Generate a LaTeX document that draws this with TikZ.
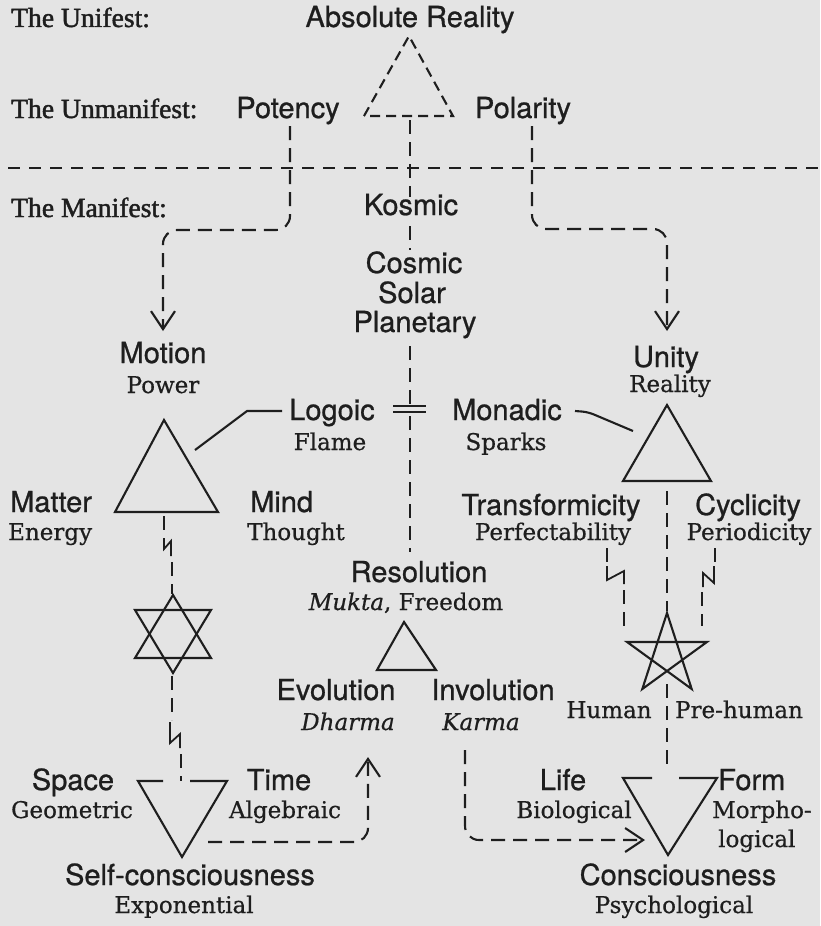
\documentclass[tikz,border=0pt]{standalone}
\usepackage{fontspec}
\setmainfont[FakeBold=0.6]{DejaVu Serif}
\newfontfamily\hv[FakeBold=0.8]{TeX Gyre Heros}
\newfontfamily\tm[FakeBold=1.6]{Liberation Serif}
\usetikzlibrary{arrows.meta,calc}
\definecolor{bg}{RGB}{228,228,228}
\definecolor{ink}{RGB}{30,30,30}
\tikzset{
 sanslab/.style={font=\hv\fontsize{29}{33}\selectfont,inner sep=0pt,text=ink,anchor=base},
 serlab/.style={font=\fontsize{23}{27}\selectfont,inner sep=0pt,text=ink,anchor=base},
 levlab/.style={font=\tm\fontsize{27.6}{31}\selectfont,inner sep=0pt,text=ink,anchor=base west},
 solidline/.style={draw=ink,line width=2.1pt,line join=miter},
 dashline/.style={draw=ink,line width=2.1pt,dash pattern=on 14pt off 8pt},
 sepline/.style={draw=ink,line width=2.1pt,dash pattern=on 12pt off 9pt},
 tridash/.style={draw=ink,line width=2.1pt,dash pattern=on 10pt off 6pt},
 bolt/.style={draw=ink,line width=1.8pt},
 flow/.style={dashline,rounded corners=14pt,-{Straight Barb[length=18pt,width=24pt]}},
}
\begin{document}
\begin{tikzpicture}[x=1pt,y=-1pt]
\fill[bg] (0,0) rectangle (820,926);
\useasboundingbox (0,0) rectangle (820,926);

% ---------- labels ----------
\node[levlab] (unifest) at (11,27) {The Unifest:};
\node[levlab] (unmanifest) at (11,118) {The Unmanifest:};
\node[levlab] (manifest) at (11,217) {The Manifest:};
\node[sanslab] (absolute) at (410,27) {Absolute Reality};
\node[sanslab] (potency) at (288,118) {Potency};
\node[sanslab] (polarity) at (523,118) {Polarity};
\node[sanslab] (kosmic) at (411,215) {Kosmic};
\node[sanslab] (cosmic) at (414,273) {Cosmic};
\node[sanslab] (solar) at (412,303) {Solar};
\node[sanslab] (planetary) at (415,332) {Planetary};
\node[sanslab] (motion) at (163,363) {Motion};
\node[serlab] (power) at (163,393) {Power};
\node[sanslab] (unity) at (666,367) {Unity};
\node[serlab] (reality) at (670,392) {Reality};
\node[sanslab] (logoic) at (332,420) {Logoic};
\node[serlab] (flame) at (330,450) {Flame};
\node[sanslab] (monadic) at (507,420) {Monadic};
\node[serlab] (sparks) at (506,450) {Sparks};
\node[sanslab,anchor=base west] (matter) at (10,512) {Matter};
\node[serlab,anchor=base west] (energy) at (8,540) {Energy};
\node[sanslab,anchor=base west] (mind) at (250,512) {Mind};
\node[serlab,anchor=base west] (thought) at (247,540) {Thought};
\node[sanslab] (transf) at (551,515) {Transformicity};
\node[serlab] (perfect) at (553,540) {Perfectability};
\node[sanslab] (cyclic) at (748,515) {Cyclicity};
\node[serlab] (period) at (749,540) {Periodicity};
\node[sanslab] (resolution) at (419,582) {Resolution};
\node[serlab] (mukta) at (406,610) {\textit{Mukta}, Freedom};
\node[sanslab] (evolution) at (336,700) {Evolution};
\node[serlab] (dharma) at (348,730) {\textit{Dharma}};
\node[sanslab] (involution) at (493,700) {Involution};
\node[serlab] (karma) at (481,730) {\textit{Karma}};
\node[serlab] (human) at (609,718) {Human};
\node[serlab] (prehuman) at (739,718) {Pre-human};
\node[sanslab] (space) at (73,790) {Space};
\node[serlab] (geometric) at (72,818) {Geometric};
\node[sanslab] (time) at (279,790) {Time};
\node[serlab] (algebraic) at (285,818) {Algebraic};
\node[sanslab] (life) at (563,790) {Life};
\node[serlab] (biological) at (574,818) {Biological};
\node[sanslab,anchor=base west] (form) at (718,790) {Form};
\node[serlab,anchor=base west] (morpho) at (712,818) {Morpho-};
\node[serlab,anchor=base west] (logical) at (718,847) {logical};
\node[sanslab] (selfc) at (190,885) {Self-consciousness};
\node[serlab] (expo) at (184,913) {Exponential};
\node[sanslab] (consc) at (678,885) {Consciousness};
\node[serlab] (psych) at (674,913) {Psychological};

% ---------- key points ----------
\coordinate (absApex) at (409,36);
\coordinate (absL) at (364,116);
\coordinate (absR) at (453,116);
\coordinate (absMid) at (410,120);
\coordinate (sepL) at (8,168);
\coordinate (sepR) at (820,168);
\coordinate (potTop) at (290,126);
\coordinate (polTop) at (532,126);
\coordinate (motionTip) at (163,331);
\coordinate (unityTip) at (667,331);
\coordinate (motApex) at (164,420);
\coordinate (motL) at (115,512);
\coordinate (motR) at (218,512);
\coordinate (uniApex) at (667,405);
\coordinate (uniL) at (623,481);
\coordinate (uniR) at (711,481);
\coordinate (resApex) at (404,622);
\coordinate (resL) at (377,670);
\coordinate (resR) at (436,670);
\coordinate (davC) at (173,634);
\coordinate (stTL) at (138,781);
\coordinate (stTR) at (227,781);
\coordinate (stApex) at (182,857);
\coordinate (stGapL) at (163,781);
\coordinate (stGapR) at (190,781);
\coordinate (lfTL) at (623,778);
\coordinate (lfTR) at (717,778);
\coordinate (lfApex) at (668,855);
\coordinate (lfGapL) at (652,778);
\coordinate (lfGapR) at (679,778);
\coordinate (evoTip) at (368,757);
\coordinate (karTip) at (645,840);
\coordinate (logStart) at (282,411);
\coordinate (logEnd) at (195,450);
\coordinate (monStart) at (575,411);
\coordinate (monEnd) at (633,431);

% ---------- top region ----------
\draw[tridash] (absL) -- (absApex) -- (absR) -- cycle;
\draw[sepline] (sepL) -- (sepR);
\draw[dashline] (absMid) -- (410,197);
\draw[dashline] (410,226) -- (410,250);
\draw[dashline] (410,346) -- (410,404);
\draw[dashline] (410,416) -- (410,552);
\draw[solidline] (393,406) -- (426,406);
\draw[solidline] (393,412) -- (426,412);
\draw[flow] (potTop) -- (290,230) -- (163,230) -- (motionTip);
\draw[flow] (polTop) -- (532,229) -- (667,229) -- (unityTip);

% ---------- triangles ----------
\draw[solidline] (motL) -- (motApex) -- (motR) -- cycle;
\draw[solidline] (uniL) -- (uniApex) -- (uniR) -- cycle;
\draw[solidline] (resL) -- (resApex) -- (resR) -- cycle;
\draw[solidline] (stGapL) -- (stTL) -- (stApex) -- (stTR) -- (stGapR);
\draw[solidline] (lfGapL) -- (lfTL) -- (lfApex) -- (lfTR) -- (lfGapR);

% Logoic / Monadic pointers
\draw[solidline] (logStart) -- (247,411) -- (logEnd);
\draw[solidline, rounded corners=6pt] (monStart) -- (588,412) -- (monEnd);

% ---------- star of David ----------
\draw[solidline] ($(davC)+(0,-39)$) -- ($(davC)+(-38,24)$) -- ($(davC)+(38,24)$) -- cycle;
\draw[solidline] ($(davC)+(0,39)$) -- ($(davC)+(-38,-24)$) -- ($(davC)+(38,-24)$) -- cycle;

% ---------- pentagram ----------
\draw[solidline] (667,613) -- (642.3,689) -- (706.9,642) -- (627.1,642) -- (691.7,689) -- cycle;

% ---------- left vertical chain ----------
\draw[dashline] (164,516) -- (164,538);
\draw[bolt] (164,538) -- (164,549) -- (171,541) -- (171,556);
\draw[dashline] (172,562) -- (172,594);
\draw[dashline] (172,676) -- (172,720);
\draw[bolt] (170,722) -- (170,743) -- (180,734) -- (180,748);
\draw[dashline] (181,754) -- (181,781);

% ---------- right vertical chain ----------
\draw[dashline] (667,491) -- (667,611);
\draw[dashline] (667,684) -- (667,766);
\draw[dashline] (607,548) -- (607,566);
\draw[bolt] (607,566) -- (607,580) -- (624,571) -- (624,584);
\draw[dashline] (624,590) -- (624,628);
\draw[dashline] (715,548) -- (715,566);
\draw[bolt] (714,566) -- (714,583) -- (703,573) -- (703,587);
\draw[dashline] (702,592) -- (702,626);

% ---------- lower flows ----------
\draw[flow] (208,842) -- (368,842) -- (evoTip);
\draw[flow] (465,750) -- (465,840) -- (karTip);
\end{tikzpicture}
\end{document}
